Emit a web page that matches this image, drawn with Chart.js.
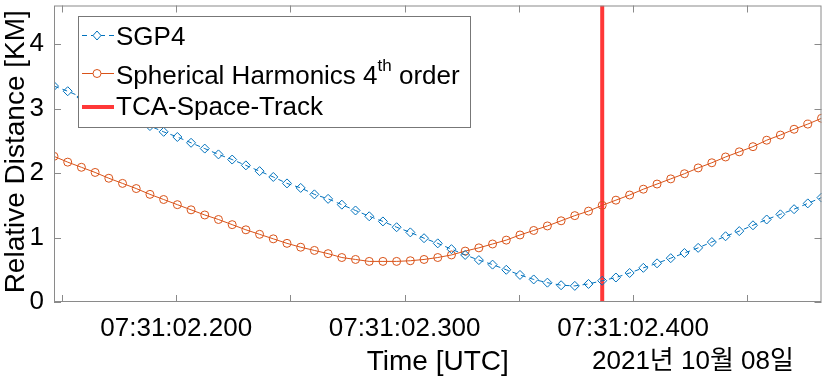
<!DOCTYPE html>
<html>
<head>
<meta charset="utf-8">
<script src="https://cdn.jsdelivr.net/npm/chart.js@4.4.1/dist/chart.umd.min.js"></script>
<style>
  html, body { margin: 0; background: #fff; }
  #contenedor { width: 827px; height: 379px; }
</style>
</head>
<body>
<div id="contenedor"><canvas id="grafico"></canvas></div>
<script>
// tiempo en ms despues de 07:31:02 (UTC, 2021-10-08)
const tiempos = [146.5, 152.5, 158.5, 164.5, 170.5, 176.5, 182.5, 188.5, 194.5, 200.5,
  206.5, 212.5, 218.5, 224.5, 230.5, 236.5, 242.5, 248.5, 254.5, 260.5,
  266.5, 272.5, 278.5, 284.5, 290.5, 296.5, 302.5, 308.5, 314.5, 320.5,
  326.5, 332.5, 338.5, 344.5, 350.5, 356.5, 362.5, 368.5, 374.5, 380.5,
  386.5, 392.5, 398.5, 404.5, 410.5, 416.5, 422.5, 428.5, 434.5, 440.5,
  446.5, 452.5, 458.5, 464.5, 470.5, 476.5, 482.5];

const sgp4 = [3.35, 3.27, 3.18, 3.09, 3.00, 2.91, 2.82, 2.73, 2.64, 2.56,
  2.47, 2.38, 2.29, 2.21, 2.12, 2.03, 1.94, 1.84, 1.77, 1.67,
  1.60, 1.51, 1.42, 1.33, 1.25, 1.16, 1.08, 0.99, 0.91, 0.82,
  0.73, 0.65, 0.58, 0.50, 0.42, 0.35, 0.30, 0.26, 0.25, 0.28,
  0.33, 0.38, 0.45, 0.53, 0.60, 0.68, 0.76, 0.84, 0.93, 1.02,
  1.10, 1.19, 1.28, 1.36, 1.44, 1.53, 1.62];

const armonicos = [2.26, 2.17, 2.09, 2.01, 1.92, 1.84, 1.76, 1.67, 1.59, 1.51,
  1.43, 1.35, 1.28, 1.20, 1.12, 1.05, 0.98, 0.91, 0.85, 0.80,
  0.75, 0.69, 0.66, 0.63, 0.63, 0.63, 0.64, 0.66, 0.69, 0.73,
  0.79, 0.84, 0.90, 0.96, 1.04, 1.11, 1.18, 1.26, 1.34, 1.41,
  1.50, 1.58, 1.66, 1.75, 1.83, 1.91, 1.99, 2.08, 2.16, 2.25,
  2.33, 2.41, 2.51, 2.59, 2.68, 2.76, 2.85];

const tca = 386.5;          // TCA de Space-Track
const ticksX = [150, 200, 250, 300, 350, 400, 450];
const etiquetasX = [200, 300, 400];
const ticksY = [0, 1, 2, 3, 4];
const limX = [146.5, 482.5];
const limY = [0, 4.6];

const AZUL = '#0072BD';
const NARANJA = '#D95319';
const ROJO = '#FF3838';
const GRIS = '#8a8a8a';
const FUENTE = '"Liberation Sans", Arial, "Noto Sans CJK KR", sans-serif';

// ejes estilo MATLAB: caja, ticks hacia dentro, titulos y leyenda
const estiloMatlab = {
  id: 'estiloMatlab',
  afterDatasetsDraw(chart) {
    const { ctx, chartArea: a, scales: { x, y } } = chart;
    ctx.save();
    ctx.strokeStyle = GRIS;
    ctx.lineWidth = 1;
    ctx.strokeRect(a.left + 0.5, a.top + 0.5, a.right - a.left - 1, a.bottom - a.top - 1);
    ctx.beginPath();
    ticksX.forEach(v => {
      const px = Math.round(x.getPixelForValue(v)) + 0.5;
      ctx.moveTo(px, a.bottom); ctx.lineTo(px, a.bottom - 7);
      ctx.moveTo(px, a.top); ctx.lineTo(px, a.top + 7);
    });
    ticksY.forEach(v => {
      const py = Math.round(y.getPixelForValue(v)) + 0.5;
      ctx.moveTo(a.left, py); ctx.lineTo(a.left + 7, py);
      ctx.moveTo(a.right, py); ctx.lineTo(a.right - 7, py);
    });
    ctx.stroke();

    // leyenda
    const lx = 78, ly = 16, lw = 392, lh = 111;
    ctx.fillStyle = '#fff';
    ctx.fillRect(lx, ly, lw, lh);
    ctx.strokeStyle = '#777';
    ctx.strokeRect(lx + 0.5, ly + 0.5, lw, lh);

    ctx.font = '26px ' + FUENTE;
    ctx.textBaseline = 'middle';
    ctx.textAlign = 'left';

    // SGP4
    ctx.strokeStyle = AZUL; ctx.lineWidth = 1; ctx.setLineDash([5, 4]);
    ctx.beginPath(); ctx.moveTo(82, 35.5); ctx.lineTo(114, 35.5); ctx.stroke();
    ctx.setLineDash([]);
    ctx.beginPath();
    ctx.moveTo(97, 31); ctx.lineTo(101, 35.5); ctx.lineTo(97, 40); ctx.lineTo(93, 35.5); ctx.closePath();
    ctx.fillStyle = '#fff'; ctx.fill(); ctx.stroke();
    ctx.fillStyle = '#000';
    ctx.fillText('SGP4', 116, 38);

    // armonicos esfericos
    ctx.strokeStyle = NARANJA;
    ctx.beginPath(); ctx.moveTo(82, 73.5); ctx.lineTo(114, 73.5); ctx.stroke();
    ctx.beginPath(); ctx.arc(97, 73.5, 4, 0, Math.PI * 2); ctx.fillStyle = '#fff'; ctx.fill(); ctx.stroke();
    ctx.fillStyle = '#000';
    let t = 'Spherical Harmonics 4';
    ctx.fillText(t, 116, 77);
    let w = ctx.measureText(t).width;
    ctx.font = '17px ' + FUENTE;
    ctx.fillText('th', 116 + w, 66);
    w += ctx.measureText('th').width;
    ctx.font = '26px ' + FUENTE;
    ctx.fillText(' order', 116 + w, 77);

    // TCA
    ctx.strokeStyle = ROJO; ctx.lineWidth = 4;
    ctx.beginPath(); ctx.moveTo(82, 107); ctx.lineTo(114, 107); ctx.stroke();
    ctx.fillText('TCA-Space-Track', 116, 108);

    // titulos de ejes
    ctx.font = '28px ' + FUENTE;
    ctx.textAlign = 'center';
    ctx.fillText('Time [UTC]', (a.left + a.right) / 2, 362);
    ctx.font = '26px ' + FUENTE;
    ctx.textAlign = 'left';
    ctx.fillText('2021년 10월 08일', 592, 362);
    ctx.save();
    ctx.translate(16, (a.top + a.bottom) / 2 - 2);
    ctx.rotate(-Math.PI / 2);
    ctx.font = '28px ' + FUENTE;
    ctx.textAlign = 'center';
    ctx.fillText('Relative Distance [KM]', 0, 0);
    ctx.restore();
    ctx.restore();
  }
};

new Chart(document.getElementById('grafico').getContext('2d'), {
  type: 'line',
  data: {
    datasets: [
      {
        label: 'SGP4',
        data: tiempos.map((t, i) => ({ x: t, y: sgp4[i] })),
        borderColor: AZUL,
        borderWidth: 1,
        borderDash: [5, 4],
        pointStyle: 'rectRot',
        pointRadius: 4.5,
        pointBorderColor: AZUL,
        pointBackgroundColor: 'rgba(255,255,255,0)',
        pointBorderWidth: 1,
        order: 1
      },
      {
        label: 'Spherical Harmonics 4th order',
        data: tiempos.map((t, i) => ({ x: t, y: armonicos[i] })),
        borderColor: NARANJA,
        borderWidth: 1,
        pointStyle: 'circle',
        pointRadius: 4,
        pointBorderColor: NARANJA,
        pointBackgroundColor: 'rgba(255,255,255,0)',
        pointBorderWidth: 1,
        order: 2
      },
      {
        label: 'TCA-Space-Track',
        data: [{ x: tca, y: limY[0] }, { x: tca, y: limY[1] }],
        borderColor: ROJO,
        borderWidth: 4,
        pointRadius: 0,
        order: 3
      }
    ]
  },
  options: {
    responsive: true,
    maintainAspectRatio: false,
    animation: false,
    events: [],
    layout: { padding: { top: 1, right: 4, left: 0, bottom: 0 } },
    plugins: { legend: { display: false }, tooltip: { enabled: false } },
    scales: {
      x: {
        type: 'linear',
        min: limX[0],
        max: limX[1],
        grid: { display: false, drawTicks: false },
        border: { display: false },
        afterBuildTicks: s => { s.ticks = ticksX.map(v => ({ value: v })); },
        afterFit: s => { s.height = 77; s.paddingLeft = 0; s.paddingRight = 0; },
        ticks: {
          autoSkip: false,
          maxRotation: 0,
          padding: 11,
          color: '#000',
          font: { family: FUENTE, size: 26 },
          callback: v => etiquetasX.includes(v) ? '07:31:02.' + String(v).padStart(3, '0') : ''
        }
      },
      y: {
        min: limY[0],
        max: limY[1],
        grid: { display: false, drawTicks: false },
        border: { display: false },
        afterBuildTicks: s => { s.ticks = ticksY.map(v => ({ value: v })); },
        afterFit: s => { s.width = 54; s.paddingTop = 0; s.paddingBottom = 0; },
        ticks: {
          padding: 10,
          color: '#000',
          font: { family: FUENTE, size: 26 }
        }
      }
    }
  },
  plugins: [estiloMatlab]
});
</script>
</body>
</html>
